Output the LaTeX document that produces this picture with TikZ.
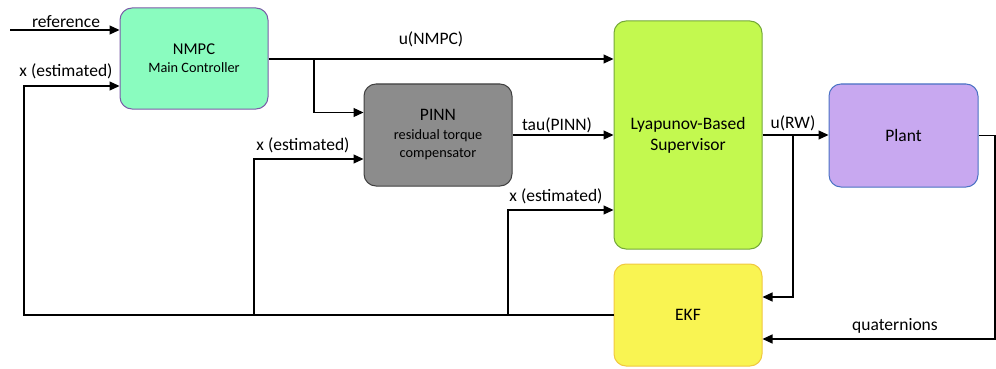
\documentclass[tikz,border=0pt]{standalone}
\usepackage{fontspec}
\setmainfont{Carlito}
\usetikzlibrary{arrows.meta}
\definecolor{nmpcfill}{HTML}{8AFCBF}
\definecolor{nmpcdraw}{HTML}{7A5CA8}
\definecolor{pinnfill}{HTML}{8C8C8C}
\definecolor{pinndraw}{HTML}{404040}
\definecolor{lyapfill}{HTML}{C3F94F}
\definecolor{lyapdraw}{HTML}{74A838}
\definecolor{plantfill}{HTML}{C8A8F0}
\definecolor{plantdraw}{HTML}{4A72C4}
\definecolor{ekffill}{HTML}{F9F452}
\definecolor{ekfdraw}{HTML}{F0C840}
\begin{document}
\begin{tikzpicture}[x=1pt,y=-1pt,
  blk/.style={draw, line width=1pt, rounded corners=12pt, align=center, inner sep=0pt},
  big/.style={font=\fontsize{17.5}{21}\selectfont},
  small/.style={font=\fontsize{14.3}{18}\selectfont},
  conn/.style={line width=1.2pt, line join=miter, -{Triangle[length=10pt,width=9pt]}},
  lbl/.style={font=\fontsize{17.5}{21}\selectfont, inner sep=0pt, anchor=base}]
\useasboundingbox (0,0) rectangle (996,369);

% blocks
\node[blk, small, fill=nmpcfill, draw=nmpcdraw, minimum width=148pt, minimum height=101pt] (nmpc) at (194,58.5)
  {{\fontsize{16.5}{18}\selectfont NMPC}\\Main Controller};
\node[blk, small, fill=pinnfill, draw=pinndraw, minimum width=148pt, minimum height=102pt] (pinn) at (438,135)
  {{\fontsize{17.5}{21}\selectfont PINN}\\[1pt]residual torque\\compensator};
\node[blk, big, fill=lyapfill, draw=lyapdraw, minimum width=148pt, minimum height=228pt] (lyap) at (688,135)
  {Lyapunov-Based\\Supervisor};
\node[blk, big, fill=plantfill, draw=plantdraw, minimum width=149pt, minimum height=103pt] (plant) at (903.5,135.5)
  {Plant};
\node[blk, big, fill=ekffill, draw=ekfdraw, minimum width=148pt, minimum height=102pt] (ekf) at (688,315)
  {EKF};

% helper coordinates
\coordinate (refstart) at (10,30);
\coordinate (bl) at (24,315);
\coordinate (j1) at (254,315);
\coordinate (j2) at (508,315);
\coordinate (split) at (314,59);
\coordinate (rwsplit) at (793,135);
\coordinate (qr) at (plant.east -| 995,0);

% connectors
\draw[conn] (refstart) -- (refstart -| nmpc.west);
\draw[conn] (ekf.west) -- (bl) |- (nmpc.west |- 0,86);
\draw[conn] (j1) |- (pinn.west |- 0,159);
\draw[conn] (j2) |- (lyap.west |- 0,210);
\draw[conn] (nmpc.east |- split) -- (split) -- (lyap.west |- split);
\draw[conn] (split) |- (pinn.west |- 0,112.5);
\draw[conn] (pinn.east) -- (lyap.west |- pinn.east);
\draw[conn] (lyap.east) -- (plant.west |- lyap.east);
\draw[conn] (rwsplit) |- (ekf.east |- 0,297);
\draw[conn] (plant.east) -- (qr) |- (ekf.east |- 0,339);

% labels
\node[lbl] (lref) at (66,27.5) {reference};
\node[lbl] (lx1) at (66,77) {x (estimated)};
\node[lbl] (lu) at (431,45) {u(NMPC)};
\node[lbl] (lx2) at (303,150) {x (estimated)};
\node[lbl] (ltau) at (557,130) {tau(PINN)};
\node[lbl] (lx3) at (556,201) {x (estimated)};
\node[lbl] (lrw) at (793,128) {u(RW)};
\node[lbl] (lq) at (895,330) {quaternions};
\end{tikzpicture}
\end{document}
